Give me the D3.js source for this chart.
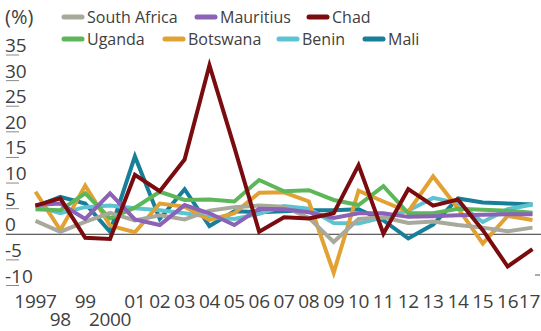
<!DOCTYPE html>
<html><head><meta charset="utf-8">
<script src="https://cdn.jsdelivr.net/npm/d3@7"></script>
<style>
html,body{margin:0;padding:0;background:#fff;}
svg{display:block;}
text{font-family:"Open Sans",sans-serif;fill:#404040;}
</style></head>
<body>
<svg id="c" width="541" height="331"></svg>
<script>
const years = d3.range(1997, 2018);
const xTickLabels = ["1997","98","99","2000","01","02","03","04","05","06","07","08","09","10","11","12","13","14","15","16","17"];
const xTickRow2 = ["98","2000"];
const yTicks = [35,30,25,20,15,10,5,0,-5,-10];

const southAfrica = [2.6,0.5,2.4,4.2,2.7,3.7,2.9,4.6,5.3,5.6,5.4,3.2,-1.5,3.0,3.3,2.2,2.5,1.8,1.3,0.6,1.3];
const mauritius   = [5.7,6.0,3.0,8.0,2.9,1.8,5.7,4.1,1.8,5.0,4.9,4.3,3.2,4.1,4.1,3.4,3.5,3.7,3.8,3.9,3.9];
const chad        = [5.6,7.0,-0.7,-0.9,11.6,8.4,14.6,33.0,17.0,0.5,3.3,3.1,4.1,13.5,0.1,8.8,5.6,6.8,0.8,-6.3,-2.9];
const uganda      = [4.9,4.7,8.0,3.1,5.2,8.3,6.7,6.8,6.4,10.6,8.4,8.6,6.7,5.7,9.4,4.1,4.1,5.0,4.8,4.6,4.2];
const botswana    = [8.3,0.8,9.5,1.7,0.4,6.0,5.4,2.8,4.1,8.1,8.2,6.4,-7.5,8.5,6.4,4.4,11.3,5.1,-1.8,3.6,2.8];
const benin       = [5.5,4.1,5.3,5.6,5.1,4.7,4.1,3.4,3.0,4.0,5.5,5.0,2.2,2.1,3.3,4.6,7.1,6.1,2.4,4.9,5.8];
const mali        = [5.4,7.3,6.0,0.5,15.2,3.0,8.8,1.6,4.5,4.3,4.5,4.7,4.7,4.9,2.7,-0.8,1.9,7.0,6.2,6.0,5.8];

const seriesNames  = ["South Africa","Mauritius","Chad","Uganda","Botswana","Benin","Mali"];
const seriesColors = ["#a9a99b","#8a62b6","#7a0c0f","#5db75a","#e1a133","#5ec3d1","#187f98"];
const seriesValues = [southAfrica,mauritius,chad,uganda,botswana,benin,mali];
const drawOrder = ["Mali","Benin","Botswana","Uganda","South Africa","Mauritius","Chad"];

const W = 541;
const svg = d3.select("#c");
const x = d3.scaleLinear().domain([1997,2017]).range([35.5,532.5]);
const y = d3.scaleLinear().domain([-10,35]).range([285.5,55]);

// y ticks and labels
const yg = svg.append("g");
yTicks.forEach(v=>{
  if (v!==0) yg.append("line").attr("x1",6).attr("x2",19).attr("y1",y(v)).attr("y2",y(v))
    .attr("stroke","#8a8a8a").attr("stroke-width",1);
  yg.append("text").attr("x",5).attr("y",y(v)-3).attr("font-size",19).text(v<0?"-"+Math.abs(v):v);
});
// zero line
svg.append("line").attr("x1",6).attr("x2",W).attr("y1",y(0)).attr("y2",y(0))
  .attr("stroke","#333").attr("stroke-width",1);
// small right mark
svg.append("line").attr("x1",535).attr("x2",540).attr("y1",275).attr("y2",275)
  .attr("stroke","#555").attr("stroke-width",1);

// x labels
const xg = svg.append("g");
years.forEach((yr,i)=>{
  const lab = xTickLabels[i];
  const row2 = xTickRow2.includes(lab);
  const t = xg.append("text").attr("x",x(yr)).attr("y",row2?326:308).attr("text-anchor","middle")
    .attr("font-size",19).attr("letter-spacing","-0.3").text(lab);
  const bb = t.node().getBBox();
  if (bb.x + bb.width > W - 1) t.attr("x", x(yr) - (bb.x + bb.width - (W - 1)));
});

// lines
const line = d3.line().x((d,i)=>x(years[i])).y(d=>y(d));
drawOrder.forEach(n=>{
  const k = seriesNames.indexOf(n);
  svg.append("path").datum(seriesValues[k]).attr("d",line).attr("fill","none")
    .attr("stroke",seriesColors[k]).attr("stroke-width",4).attr("stroke-linejoin","miter");
});

// unit label
svg.append("text").attr("x",5).attr("y",24).attr("font-size",20).text("(%)");

// legend
const legendPos = [[64,17],[197,17],[309,17],[64,39],[165,39],[279,39],[365,39]];
seriesNames.forEach((n,k)=>{
  const [lx,ly] = legendPos[k];
  svg.append("line").attr("x1",lx).attr("x2",lx+18).attr("y1",ly).attr("y2",ly)
    .attr("stroke",seriesColors[k]).attr("stroke-width",5).attr("stroke-linecap","round");
  svg.append("text").attr("x",lx+23).attr("y",ly+5.5).attr("font-size",16).text(n);
});
</script>
</body></html>
